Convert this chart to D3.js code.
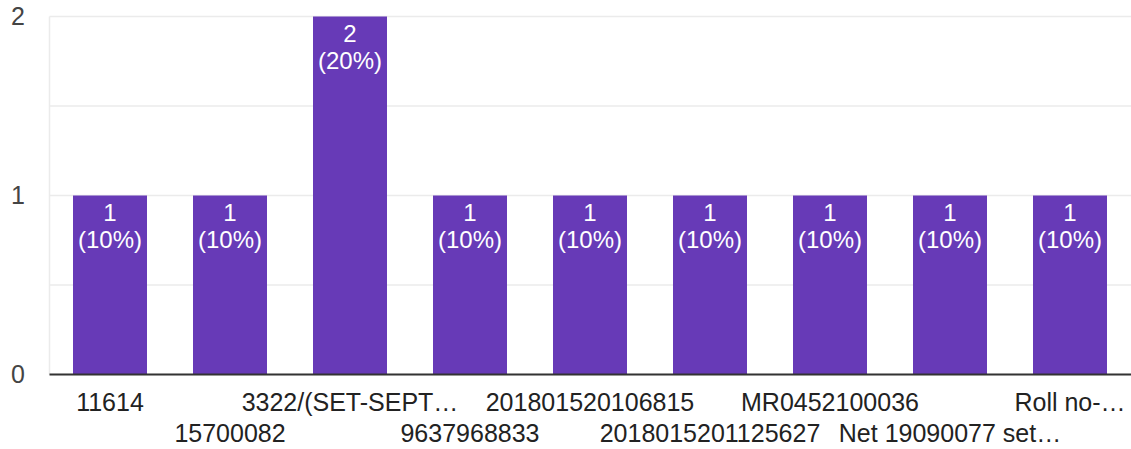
<!DOCTYPE html>
<html><head><meta charset="utf-8">
<script src="https://cdn.jsdelivr.net/npm/d3@7"></script>
<style>
html,body{margin:0;padding:0;background:#fff;}
svg{display:block;font-family:"Liberation Sans", Arial, sans-serif;}
</style></head>
<body>
<svg id="chart" width="1131" height="449"></svg>
<script>
const categories = ["11614","15700082","3322/(SET-SEPT…","9637968833","201801520106815","2018015201125627","MR0452100036","Net 19090077 set…","Roll no-…"];
const counts = [1,1,2,1,1,1,1,1,1];
const percents = ["10%","10%","20%","10%","10%","10%","10%","10%","10%"];
const yTicks = [0,1,2];
const gridTicks = [0,0.5,1,1.5,2];

(function(){
const svg = d3.select("#chart");
const pLeft = 49.5, pRight = 1131, pTop = 16.5, pBottom = 374.5;

const x = d3.scaleBand().domain(categories).range([50,1130])
  .paddingInner(46/120).paddingOuter(23/120);
const y = d3.scaleLinear().domain([0,2]).range([pBottom, pTop]);

// gridlines
svg.append("g").selectAll("line").data(gridTicks).join("line")
  .attr("x1", pLeft).attr("x2", pRight)
  .attr("y1", d=>y(d)).attr("y2", d=>y(d))
  .attr("stroke", "#ebebeb").attr("stroke-width", 1.5);
svg.append("line").attr("x1", pLeft).attr("x2", pLeft).attr("y1", pTop).attr("y2", pBottom)
  .attr("stroke", "#ebebeb").attr("stroke-width", 1.5);

// bars
svg.append("g").selectAll("rect").data(counts).join("rect")
  .attr("x", (d,i)=>x(categories[i]))
  .attr("width", x.bandwidth())
  .attr("y", d=>y(d))
  .attr("height", d=>y(0)-y(d))
  .attr("fill", "#673ab7");

// bar labels
const lab = svg.append("g").attr("fill","#fff").attr("font-size","24px").attr("text-anchor","middle");
counts.forEach((d,i)=>{
  const cx = x(categories[i]) + x.bandwidth()/2;
  lab.append("text").attr("x", cx).attr("y", y(d)+25).text(d);
  lab.append("text").attr("x", cx).attr("y", y(d)+52).text("(" + percents[i] + ")");
});

// baseline axis
svg.append("line").attr("x1", pLeft).attr("x2", pRight).attr("y1", pBottom).attr("y2", pBottom)
  .attr("stroke", "#333").attr("stroke-width", 2);

// y labels
svg.append("g").selectAll("text").data(yTicks).join("text")
  .attr("x", 25).attr("y", d=>y(d)+8.5)
  .attr("text-anchor","end").attr("font-size","25px").attr("fill","#444")
  .text(d=>d);

// x labels (staggered)
svg.append("g").selectAll("text").data(categories).join("text")
  .attr("x", d=>x(d)+x.bandwidth()/2)
  .attr("y", (d,i)=> i%2===0 ? 411 : 442)
  .attr("text-anchor","middle").attr("font-size","25px").attr("fill","#222")
  .text(d=>d);
})();
</script>
</body></html>
